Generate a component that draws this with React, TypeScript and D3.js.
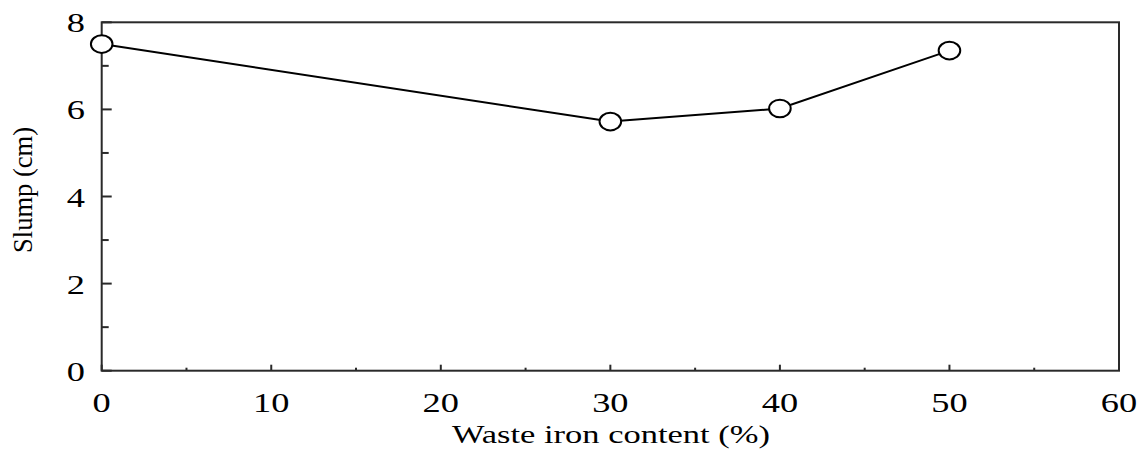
import React from "react";
import * as d3 from "d3";

const xValues = [0, 30, 40, 50];
const slump = [7.5, 5.72, 6.02, 7.35];
const xMajorTicks = [0, 10, 20, 30, 40, 50, 60];
const xMinorTicks = [5, 15, 25, 35, 45, 55];
const yMajorTicks = [0, 2, 4, 6, 8];
const yMinorTicks = [1, 3, 5, 7];
const xTitle = "Waste iron content (%)";
const yTitle = "Slump (cm)";

const W = 1143;
const H = 451;
const left = 101.7;
const right = 1119;
const top = 22.3;
const bottom = 370.7;
const textStyle = { fontFamily: "'Liberation Serif'" };

export default function App() {
  const x = d3.scaleLinear().domain([0, 60]).range([left, right]);
  const y = d3.scaleLinear().domain([0, 8]).range([bottom, top]);
  const line = d3
    .line<number>()
    .x((_, i) => x(xValues[i]))
    .y((d) => y(d));
  const axisColor = "#2a2a2a";
  const sx = 1.3;
  return (
    <svg
      width={W}
      height={H}
      style={{ position: "absolute", left: 0, top: 0, background: "#fff" }}
    >
      <rect x={0} y={0} width={W} height={H} fill="#fff" />
      <rect
        x={left}
        y={top}
        width={right - left}
        height={bottom - top}
        fill="none"
        stroke={axisColor}
        strokeWidth={2}
      />
      {yMajorTicks.map((t) => (
        <line key={"ym" + t} x1={left} x2={left + 10} y1={y(t)} y2={y(t)} stroke={axisColor} strokeWidth={2} />
      ))}
      {yMinorTicks.map((t) => (
        <line key={"yn" + t} x1={left} x2={left + 7} y1={y(t)} y2={y(t)} stroke={axisColor} strokeWidth={2} />
      ))}
      {xMajorTicks.map((t) => (
        <line key={"xm" + t} x1={x(t)} x2={x(t)} y1={bottom} y2={bottom - 6} stroke={axisColor} strokeWidth={2} />
      ))}
      {xMinorTicks.map((t) => (
        <line key={"xn" + t} x1={x(t)} x2={x(t)} y1={bottom} y2={bottom - 3} stroke={axisColor} strokeWidth={2} />
      ))}
      {yMajorTicks.map((t) => (
        <text
          key={"yl" + t}
          transform={`translate(${85},${y(t) + 10}) scale(${sx},1)`}
          textAnchor="end"
          fontSize={28}
          fill="#000"
          style={textStyle}
        >
          {t}
        </text>
      ))}
      {xMajorTicks.map((t) => (
        <text
          key={"xl" + t}
          transform={`translate(${x(t)},${412}) scale(${sx},1)`}
          textAnchor="middle"
          fontSize={28}
          fill="#000"
          style={textStyle}
        >
          {t}
        </text>
      ))}
      <text
        x={611}
        y={443}
        textAnchor="middle"
        fontSize={26}
        textLength={318}
        lengthAdjust="spacingAndGlyphs"
        fill="#000"
        style={textStyle}
      >
        {xTitle}
      </text>
      <g transform={`translate(${31.5},${190}) rotate(-90) scale(1,1.2)`}>
        <text
          x={0}
          y={0}
          textAnchor="middle"
          fontSize={23}
          textLength={126}
          lengthAdjust="spacingAndGlyphs"
          fill="#000"
          style={textStyle}
        >
          {yTitle}
        </text>
      </g>
      <path d={line(slump) || ""} fill="none" stroke="#000" strokeWidth={2} />
      {slump.map((v, i) => (
        <ellipse
          key={"pt" + i}
          cx={x(xValues[i])}
          cy={y(v)}
          rx={10.8}
          ry={8.8}
          fill="#fff"
          stroke="#000"
          strokeWidth={2}
        />
      ))}
    </svg>
  );
}
